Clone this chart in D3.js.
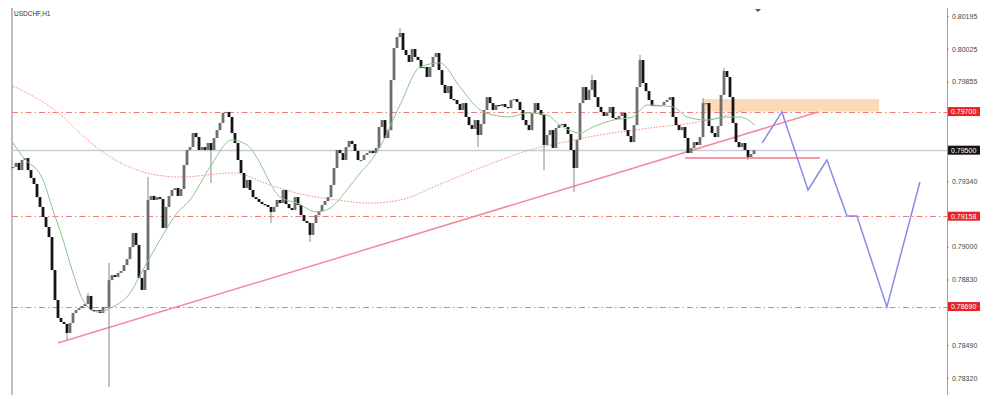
<!DOCTYPE html>
<html><head><meta charset="utf-8">
<script src="https://cdn.jsdelivr.net/npm/d3@7"></script>
<style>html,body{margin:0;padding:0;background:#fff}svg{display:block}</style>
</head><body><svg id="c" width="1000" height="405"></svg>
<script>
const symbol = "USDCHF,H1";
const closes = [
0.79413,0.79434,0.79397,0.79449,0.79459,0.79397,0.79356,0.79325,0.79257,0.79206,
0.79154,0.79102,0.79050,0.78879,0.78724,0.78631,0.78610,0.78600,0.78553,0.78605,
0.78657,0.78672,0.78682,0.78693,0.78703,0.78745,0.78672,0.78667,0.78672,0.78657,
0.78688,0.78688,0.78827,0.78853,0.78843,0.78864,0.78874,0.78905,0.78936,0.78998,
0.79071,0.79009,0.78838,0.78776,0.78879,0.79242,0.79263,0.79242,0.79257,0.79247,
0.79097,0.79206,0.79263,0.79294,0.79304,0.79263,0.79299,0.79423,0.79501,0.79516,
0.79589,0.79568,0.79501,0.79516,0.79501,0.79537,0.79501,0.79563,0.79604,0.79641,
0.79693,0.79698,0.79672,0.79589,0.79537,0.79449,0.79382,0.79304,0.79346,0.79294,
0.79257,0.79247,0.79232,0.79221,0.79216,0.79206,0.79180,0.79206,0.79242,0.79226,
0.79294,0.79221,0.79200,0.79190,0.79257,0.79216,0.79164,0.79133,0.79123,0.79061,
0.79123,0.79164,0.79185,0.79216,0.79237,0.79257,0.79320,0.79408,0.79501,0.79485,
0.79449,0.79516,0.79548,0.79532,0.79496,0.79449,0.79449,0.79475,0.79485,0.79496,
0.79485,0.79511,0.79620,0.79656,0.79563,0.79604,0.79863,0.80029,0.80086,0.80107,
0.80019,0.79993,0.79957,0.80024,0.79983,0.79967,0.79926,0.79931,0.79879,0.79931,
0.79983,0.80003,0.79915,0.79838,0.79796,0.79832,0.79765,0.79760,0.79739,0.79708,
0.79744,0.79672,0.79630,0.79610,0.79656,0.79579,0.79636,0.79708,0.79775,0.79744,
0.79708,0.79734,0.79729,0.79739,0.79724,0.79718,0.79760,0.79765,0.79750,0.79708,
0.79656,0.79630,0.79604,0.79693,0.79744,0.79708,0.79682,0.79527,0.79579,0.79604,
0.79511,0.79615,0.79630,0.79636,0.79620,0.79584,0.79501,0.79408,0.79553,0.79744,
0.79827,0.79760,0.79812,0.79863,0.79775,0.79724,0.79698,0.79677,0.79693,0.79724,
0.79667,0.79661,0.79677,0.79693,0.79604,0.79573,0.79542,0.79630,0.79827,0.79967,
0.79848,0.79806,0.79760,0.79729,0.79734,0.79734,0.79734,0.79750,0.79760,0.79775,
0.79672,0.79630,0.79604,0.79620,0.79563,0.79485,0.79511,0.79542,0.79527,0.79568,
0.79744,0.79744,0.79625,0.79589,0.79568,0.79625,0.79786,0.79910,0.79879,0.79775,
0.79641,0.79542,0.79516,0.79537,0.79501,0.79465,0.79480,0.79500];
// [bar index, high, low] for visible wicks (null = body edge)
const wicks = [[18,null,0.78517],[25,0.78760,null],[32,0.78916,0.78273],[45,0.79361,null],
[66,null,0.79330],[86,null,0.79123],[99,null,0.79024],[129,0.80133,null],[155,null,0.79516],
[177,null,0.79397],[187,null,0.79283],[193,0.79889,null],[209,0.79993,null],[230,0.79770,null],
[237,0.79926,null],[245,null,0.79449]];
// moving averages: [bar index, price]
const maFast = [[0,0.79537],[3.3,0.79465],[10,0.79346],[13.3,0.79190],[16.7,0.79035],[20,0.78864],
[23.3,0.78724],[28,0.78662],[33.3,0.78688],[39,0.78760],[43.3,0.78879],[49,0.79035],[54.7,0.79175],
[59,0.79242],[65.7,0.79413],[73,0.79553],[78,0.79527],[82.3,0.79434],[85.7,0.79330],[89,0.79257],
[94.7,0.79226],[101.3,0.79180],[105.7,0.79200],[111.3,0.79294],[115.7,0.79382],[119,0.79439],
[122.3,0.79516],[129,0.79734],[135.7,0.79931],[142.3,0.79952],[149,0.79827],[155.7,0.79708],
[160,0.79682],[165.7,0.79672],[171.3,0.79693],[178,0.79682],[182.3,0.79630],[189,0.79589],
[193.3,0.79620],[200,0.79656],[206.7,0.79672],[211.3,0.79734],[220,0.79724],[224.7,0.79672],
[231.3,0.79656],[238,0.79672],[242.3,0.79672],[247.3,0.79630]];
const maSlow = [[0,0.79832],[16.7,0.79672],[21.3,0.79604],[29,0.79501],[44.7,0.79382],[55.7,0.79361],
[73.3,0.79382],[85.7,0.79320],[93.3,0.79283],[108,0.79242],[119,0.79226],[129,0.79242],[143.3,0.79330],
[160,0.79434],[172.3,0.79501],[182.3,0.79537],[195.7,0.79579],[212.3,0.79615],[230,0.79651],[244,0.79708]];
const levels = [0.79700, 0.79158, 0.78690];
const currentPrice = 0.79500;
const tickVals = [0.80195, 0.80025, 0.79855, 0.79340, 0.79000, 0.78830, 0.78490, 0.78320];
const trendLine = [[15,0.78501],[268.3,0.79698]];
const supportLine = [[224,0.79460],[269,0.79460]];
const zone = {i0:230, i1:288.7, top:0.79765, bottom:0.79700};
const projection = [[249.7,0.79537],[256.3,0.79698],[265,0.79294],[271.3,0.79449],[278,0.79159],
[281.3,0.79159],[291.3,0.78688],[302.3,0.79335]];

const svg = d3.select("#c");
const L = 12, R = 947;
const x = d3.scaleLinear().domain([0, closes.length - 1]).range([13, 754]);
const y = d3.scaleLinear().domain([0.78320, 0.80195]).range([378, 16]);
const snap = v => Math.round(y(v)) + 0.5;
const font = "'Liberation Sans', Arial, sans-serif";

svg.append("rect").attr("width",1000).attr("height",405).attr("fill","#fff");

svg.append("line").attr("x1",L).attr("x2",L).attr("y1",8).attr("y2",395).attr("stroke","#bdbdbd").attr("stroke-width",2);
svg.append("line").attr("x1",R+0.5).attr("x2",R+0.5).attr("y1",8).attr("y2",395).attr("stroke","#a0a0a0").attr("stroke-width",1);

svg.append("line").attr("x1",L).attr("x2",R).attr("y1",snap(currentPrice)).attr("y2",snap(currentPrice))
  .attr("stroke","#c9cdd8").attr("stroke-width",1.5);

svg.append("rect").attr("x",x(zone.i0)).attr("y",y(zone.top)).attr("width",x(zone.i1)-x(zone.i0))
  .attr("height",y(zone.bottom)-y(zone.top)).attr("fill","#fcd5b0").attr("opacity",0.9);

svg.selectAll(".lvl").data(levels).enter().append("line")
  .attr("x1",L).attr("x2",R).attr("y1",d=>snap(d)).attr("y2",d=>snap(d))
  .attr("stroke","#f07c7c").attr("stroke-width",1).attr("stroke-dasharray","6,3,1.5,3");

const line = d3.line().x(d=>x(d[0])).y(d=>y(d[1]));
const smooth = d3.line().x(d=>x(d[0])).y(d=>y(d[1])).curve(d3.curveMonotoneX);

svg.append("path").attr("d",smooth(maSlow)).attr("fill","none").attr("stroke","#f08a8a")
  .attr("stroke-width",1).attr("stroke-dasharray","1.5,1.5");

svg.append("path").attr("d",line(trendLine)).attr("fill","none").attr("stroke","#f28a9a").attr("stroke-width",1.5);
svg.append("path").attr("d",line(supportLine)).attr("fill","none").attr("stroke","#f07a8a").attr("stroke-width",1.5);

const opens = closes.map((c,i)=> i===0 ? c : closes[i-1]);
const wmap = new Map(wicks.map(w=>[w[0],w]));
const bars = closes.map((c,i)=>{
  const o = opens[i];
  const w = wmap.get(i);
  const hi = w && w[1]!=null ? w[1] : Math.max(o,c);
  const lo = w && w[2]!=null ? w[2] : Math.min(o,c);
  return {i,o,c,hi,lo};
});
const g = svg.append("g");
g.selectAll(".wk").data(bars).enter().append("line")
  .attr("x1",d=>x(d.i)).attr("x2",d=>x(d.i)).attr("y1",d=>y(d.hi)).attr("y2",d=>y(d.lo))
  .attr("stroke","#8a8a8a").attr("stroke-width",1);
g.selectAll(".bd").data(bars).enter().append("rect")
  .attr("x",d=>x(d.i)-1.4).attr("width",2.8)
  .attr("y",d=>y(Math.max(d.o,d.c))).attr("height",d=>Math.max(1.2,Math.abs(y(d.o)-y(d.c))))
  .attr("fill",d=>d.c>=d.o ? "#6e6e6e" : "#151515");

svg.append("path").attr("d",smooth(maFast)).attr("fill","none").attr("stroke","#8cc48c").attr("stroke-width",1);

svg.append("path").attr("d",line(projection)).attr("fill","none").attr("stroke","#8a8ae6").attr("stroke-width",1.5);

const ax = svg.append("g").attr("transform",`translate(${R},0)`)
  .call(d3.axisRight(y).tickValues(tickVals).tickFormat(d3.format(".5f")).tickSize(2).tickPadding(3));
ax.select(".domain").remove();
ax.selectAll("line").attr("stroke","#999");
ax.selectAll("text").attr("font-family",font).attr("font-size",7).attr("fill","#444");

const badges = levels.map(v=>({v,col:"#e8232b"})).concat([{v:currentPrice,col:"#151515"}]);
const bg = svg.selectAll(".bdg").data(badges).enter().append("g");
bg.append("rect").attr("x",R+1).attr("y",d=>y(d.v)-4.5).attr("width",32).attr("height",9).attr("fill",d=>d.col);
bg.append("text").attr("x",R+4).attr("y",d=>y(d.v)+2.5).text(d=>d3.format(".5f")(d.v))
  .attr("font-family",font).attr("font-size",7).attr("fill","#fff");

svg.append("text").attr("x",14).attr("y",16).text(symbol).attr("font-family",font).attr("font-size",6.5).attr("fill","#333");

svg.append("path").attr("transform","translate(758,9)").attr("d","M-3,0 L3,0 L0,3 Z").attr("fill","#555");
</script></body></html>
